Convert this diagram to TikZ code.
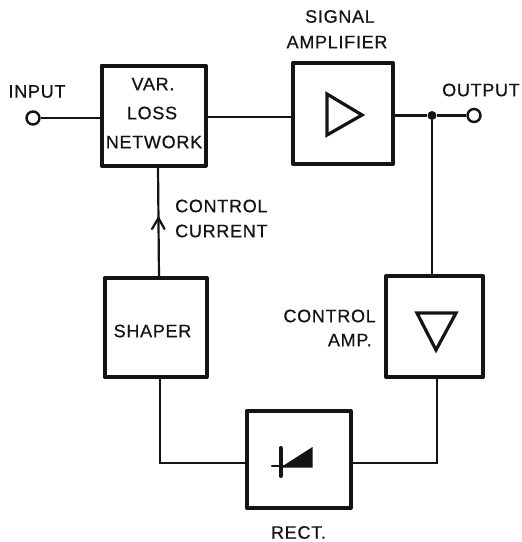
\documentclass[tikz,border=0pt]{standalone}
\usepackage{fontspec}
\setmainfont{Liberation Sans}[LetterSpace=4,FakeBold=0.6]
\usetikzlibrary{arrows.meta,calc}
\tikzset{
  blockbox/.style={draw=ink,line width=4pt,fill=white,inner sep=0pt,line join=round},
  wire/.style={draw=ink,line width=2.2pt},
  term/.style={circle,draw=ink,line width=2.4pt,fill=white,minimum size=13pt,inner sep=0pt},
  lab/.style={text=ink,font=\fontsize{18}{20}\selectfont,inner sep=0pt},
  symb/.style={draw=ink,line width=3.2pt,line join=miter},
}
\definecolor{ink}{gray}{0.08}
\begin{document}
\begin{tikzpicture}[x=1pt,y=-1pt]
\useasboundingbox (0,0) rectangle (522,542);
% blocks
\node[blockbox,minimum width=104pt,minimum height=100pt] (var) at (153.5,115.5) {};
\node[blockbox,minimum width=100pt,minimum height=101pt] (sig) at (343,113.5) {};
\node[blockbox,minimum width=102pt,minimum height=99pt] (shp) at (155.5,327.5) {};
\node[blockbox,minimum width=97pt,minimum height=101pt] (cam) at (434.5,326.5) {};
\node[blockbox,minimum width=104pt,minimum height=97pt] (rec) at (298.5,459.5) {};
% terminals and junctions
\node[term] (inp) at (33,118) {};
\node[term] (out) at (474,115.5) {};
\node[circle,fill=ink,minimum size=9pt,inner sep=0pt] (jun) at (432,115.5) {};
\coordinate (arrowtip) at (158.5,218);
% connectors
\draw[wire] (inp) -- (inp -| var.west);
\draw[wire] (var.east |- 0,117) -- (sig.west |- 0,117);
\draw[wire] (sig.east |- jun) -- (jun) -- (out);
\draw[wire] (jun) -- (jun |- cam.north);
\draw[wire] (158,166) -- (159,278);
\draw[wire] (160,377) -- (160,463) -- (rec.west |- 0,463);
\draw[wire] (rec.east |- 0,463) -- (437,463) -- (437,377);
\draw[wire,line cap=round] (152,229) -- (arrowtip) -- (164.5,229);
% symbols
\draw[symb] (327,94) -- (327,135) -- (362,115) -- cycle;
\draw[symb] (417,313) -- (456,313) -- (436,350) -- cycle;
\draw[draw=ink,line width=4pt,line cap=round] (280.5,448) -- (280.5,476);
\draw[draw=ink,line width=2.6pt,line cap=round] (272,466) -- (284,466);
\fill[ink] (282,466.5) -- (312.5,447) -- (312.5,467.5) -- (282,467.5) -- cycle;
% labels
\node[lab] (t1) at (37,91.5) {INPUT};
\node[lab] (t2) at (153,84) {VAR.};
\node[lab] (t3) at (152,113) {LOSS};
\node[lab] (t4) at (154,142) {NETWORK};
\node[lab] (t5) at (340,16.5) {SIGNAL};
\node[lab] (t6) at (337,42) {AMPLIFIER};
\node[lab] (t7) at (481,90) {OUTPUT};
\node[lab,anchor=west] (t8) at (175,206) {CONTROL};
\node[lab,anchor=west] (t9) at (175,231) {CURRENT};
\node[lab] (t10) at (152.5,331) {SHAPER};
\node[lab,anchor=east] (t11) at (376,316) {CONTROL};
\node[lab,anchor=east] (t12) at (372,340) {AMP.};
\node[lab] (t13) at (298.5,532.5) {RECT.};
\end{tikzpicture}
\end{document}
